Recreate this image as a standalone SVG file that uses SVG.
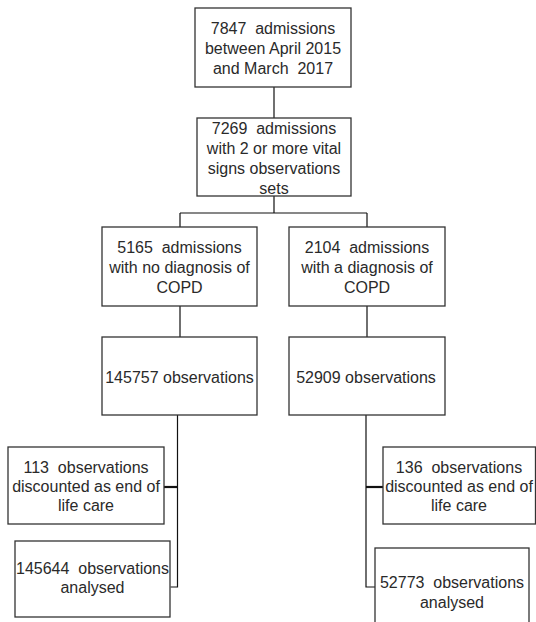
<svg xmlns="http://www.w3.org/2000/svg" width="536" height="622" viewBox="0 0 536 622">
<style>
.box{fill:#ffffff;stroke:#333333;stroke-width:1.3}
.t{font-family:"Liberation Sans",Arial,sans-serif;font-size:16px;fill:#2a2a2a;text-anchor:middle;white-space:pre}
.c{fill:none;stroke:#111111;stroke-width:1.2}
.ct{fill:none;stroke:#111111;stroke-width:2.2}
</style>
<rect width="536" height="622" fill="#ffffff"/>
<g id="connectors">
<path class="c" d="M274 87V118"/>
<path class="c" d="M274 196V213M180 213H367M180 213V227M367 213V227"/>
<path class="c" d="M180 306V337M367 306V337"/>
<path class="c" d="M177.5 415V587H170.5"/>
<path class="ct" d="M164 487H177.5"/>
<path class="c" d="M366 415V587H375"/>
<path class="ct" d="M366 487H383"/>
</g>
<g id="n1"><rect class="box" x="195" y="8" width="156" height="79"/>
<text class="t" xml:space="preserve"><tspan x="273" y="34">7847  admissions</tspan><tspan x="273" y="54">between April 2015</tspan><tspan x="273" y="74">and March  2017</tspan></text></g>
<g id="n2"><rect class="box" x="197" y="118" width="154" height="78"/>
<text class="t" xml:space="preserve"><tspan x="274" y="134">7269  admissions</tspan><tspan x="274" y="154">with 2 or more vital</tspan><tspan x="274" y="174">signs observations</tspan><tspan x="274" y="194">sets</tspan></text></g>
<g id="n3"><rect class="box" x="102" y="227" width="155" height="79"/>
<text class="t" xml:space="preserve"><tspan x="179.5" y="253">5165  admissions</tspan><tspan x="179.5" y="273">with no diagnosis of</tspan><tspan x="179.5" y="293">COPD</tspan></text></g>
<g id="n4"><rect class="box" x="289" y="227" width="156" height="79"/>
<text class="t" xml:space="preserve"><tspan x="367" y="253">2104  admissions</tspan><tspan x="367" y="273">with a diagnosis of</tspan><tspan x="367" y="293">COPD</tspan></text></g>
<g id="n5"><rect class="box" x="102" y="337" width="155" height="78"/>
<text class="t" x="179.5" y="383">145757 observations</text></g>
<g id="n6"><rect class="box" x="289" y="337" width="156" height="78"/>
<text class="t" x="366" y="383">52909 observations</text></g>
<g id="n7"><rect class="box" x="8" y="447" width="156" height="77"/>
<text class="t" xml:space="preserve"><tspan x="86" y="473">113  observations</tspan><tspan x="86" y="492">discounted as end of</tspan><tspan x="86" y="511">life care</tspan></text></g>
<g id="n8"><rect class="box" x="15" y="541" width="155" height="76"/>
<text class="t" xml:space="preserve"><tspan x="92.5" y="574">145644  observations</tspan><tspan x="92.5" y="593">analysed</tspan></text></g>
<g id="n9"><rect class="box" x="383" y="447" width="152.5" height="77"/>
<text class="t" xml:space="preserve"><tspan x="459" y="473">136  observations</tspan><tspan x="459" y="492">discounted as end of</tspan><tspan x="459" y="511">life care</tspan></text></g>
<g id="n10"><rect class="box" x="375" y="548" width="154" height="80"/>
<text class="t" xml:space="preserve"><tspan x="452" y="588">52773  observations</tspan><tspan x="452" y="608">analysed</tspan></text></g>
</svg>
